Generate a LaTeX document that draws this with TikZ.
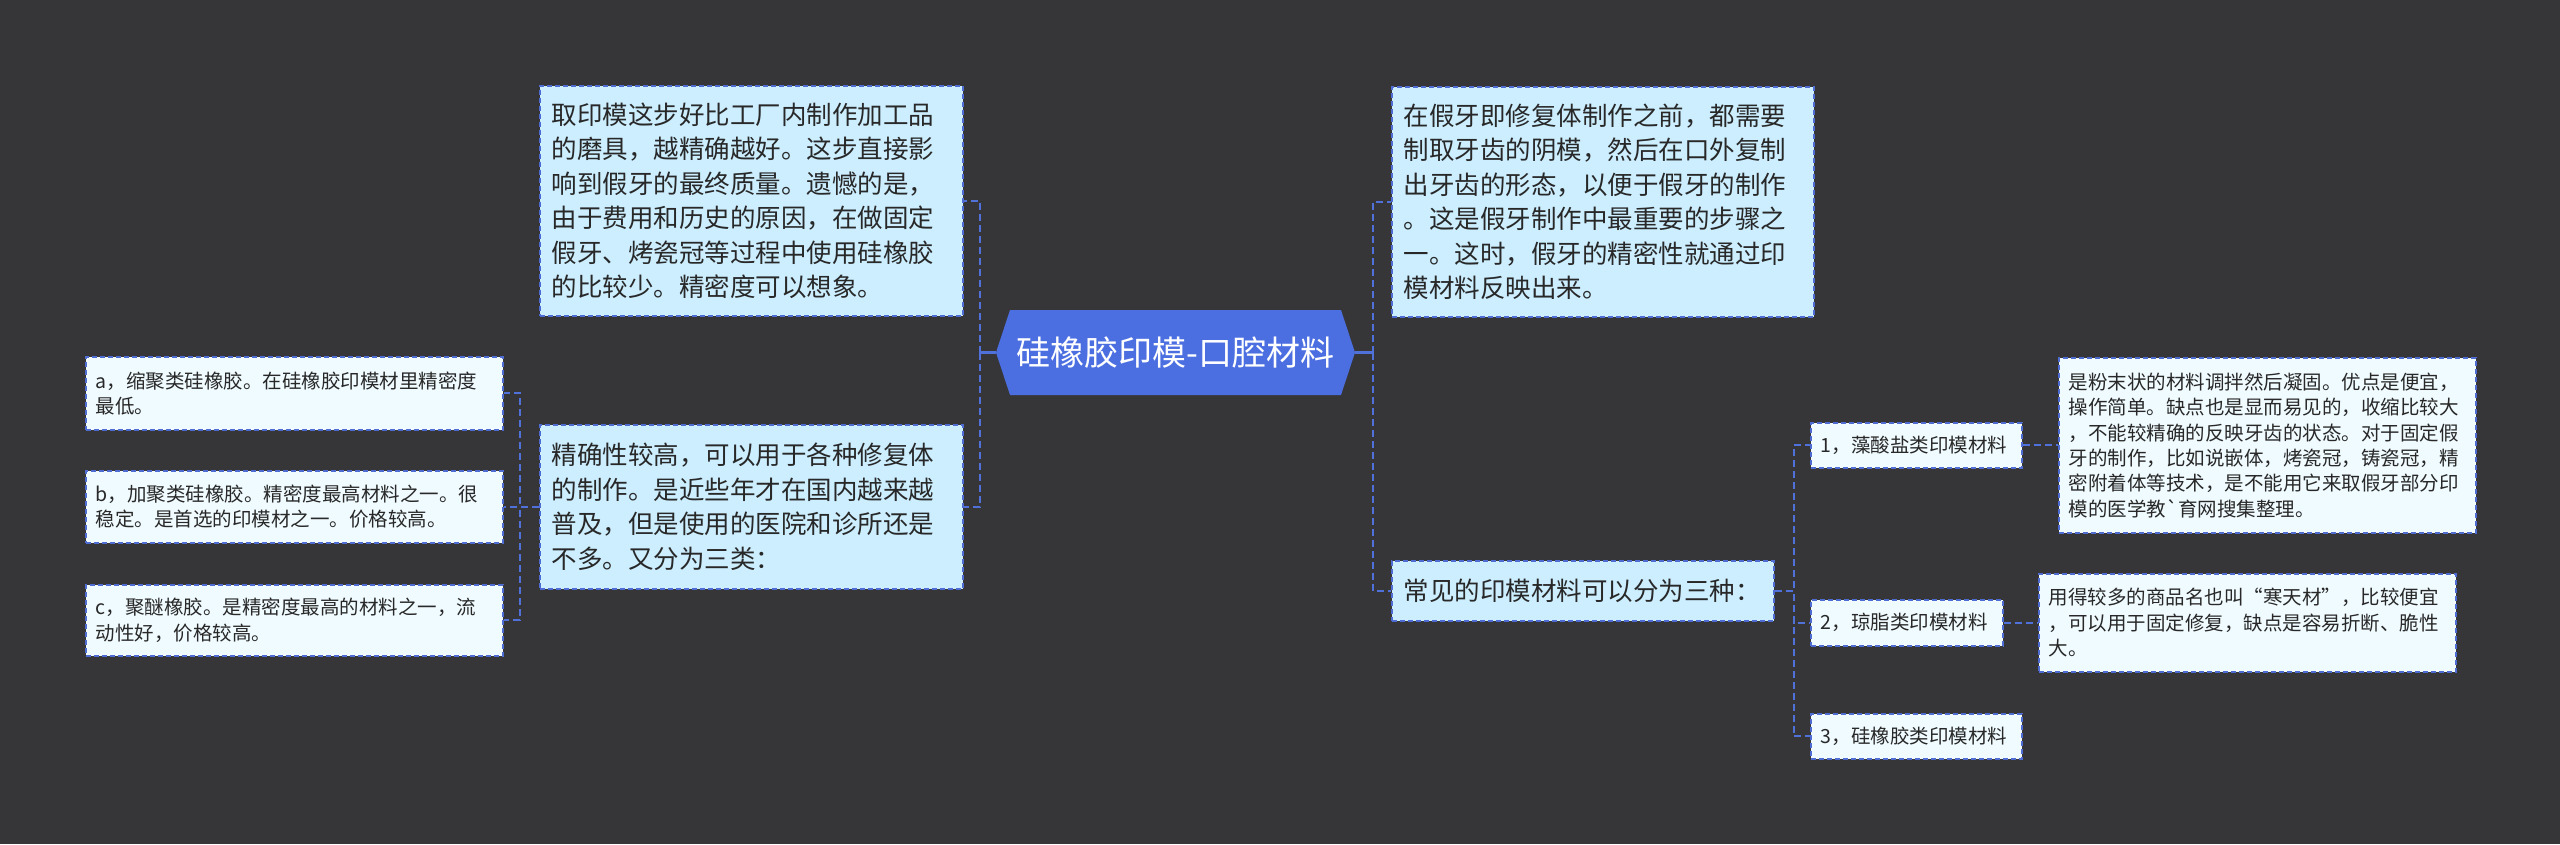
\documentclass[tikz,border=0pt]{standalone}
\usepackage{fontspec}
\setmainfont{Noto Sans CJK SC}[Ligatures=TeXOff]
\definecolor{bgc}{RGB}{54,53,56}
\definecolor{rootc}{RGB}{75,110,225}
\definecolor{lonec}{RGB}{204,238,255}
\definecolor{ltwoc}{RGB}{240,251,255}
\definecolor{bordc}{RGB}{78,108,210}
\definecolor{linec}{RGB}{80,112,218}
\definecolor{txtc}{RGB}{40,40,40}
\tikzset{
  rootbox/.style={rectangle, text=white, inner sep=0pt, minimum width=359pt, minimum height=85pt,
    font=\fontsize{34}{40}\selectfont,
    path picture={\fill[rootc] (path picture bounding box.west)
      -- ([xshift=14pt]path picture bounding box.north west)
      -- ([xshift=-14pt]path picture bounding box.north east)
      -- (path picture bounding box.east)
      -- ([xshift=-14pt]path picture bounding box.south east)
      -- ([xshift=14pt]path picture bounding box.south west) -- cycle;}},
  lonebox/.style={anchor=north west, fill=lonec, draw=bordc, line width=1.6pt, dash pattern=on 5pt off 3pt,
    text=txtc, align=left, inner xsep=12pt, inner ysep=0pt, font=\fontsize{25.5}{34.4}\selectfont},
  ltwobox/.style={anchor=north west, fill=ltwoc, draw=bordc, line width=1.5pt, dash pattern=on 5pt off 3pt,
    text=txtc, align=left, inner xsep=10pt, inner ysep=0pt, font=\fontsize{19.5}{25.4}\selectfont},
  conn/.style={draw=linec, line width=2pt, dash pattern=on 7pt off 4pt},
  stub/.style={draw=linec, line width=2.5pt},
}
\begin{document}
\begin{tikzpicture}[x=1pt,y=-1pt]
\useasboundingbox (0,0) rectangle (2560,844);
\fill[bgc] (0,0) rectangle (2560,844);

% root
\node[rootbox] (root) at (1175.5,352.5) {硅橡胶印模-口腔材料};

% left level 1
\node[lonebox, text width=399pt, minimum height=230pt] (tl) at (539,85) {取印模这步好比工厂内制作加工品\\的磨具，越精确越好。这步直接影\\响到假牙的最终质量。遗憾的是，\\由于费用和历史的原因，在做固定\\假牙、烤瓷冠等过程中使用硅橡胶\\的比较少。精密度可以想象。};
\node[lonebox, text width=399pt, minimum height=164pt] (ml) at (539,424) {精确性较高，可以用于各种修复体\\的制作。是近些年才在国内越来越\\普及，但是使用的医院和诊所还是\\不多。又分为三类：};

% left level 2
\node[ltwobox, text width=397pt, minimum height=73pt] (la) at (85,356) {a，缩聚类硅橡胶。在硅橡胶印模材里精密度\\最低。};
\node[ltwobox, text width=397pt, minimum height=72pt] (lb) at (85,470) {b，加聚类硅橡胶。精密度最高材料之一。很\\稳定。是首选的印模材之一。价格较高。};
\node[ltwobox, text width=397pt, minimum height=71pt] (lc) at (85,584) {c，聚醚橡胶。是精密度最高的材料之一，流\\动性好，价格较高。};

% right level 1
\node[lonebox, text width=398pt, minimum height=230pt] (tr) at (1391,86) {在假牙即修复体制作之前，都需要\\制取牙齿的阴模，然后在口外复制\\出牙齿的形态，以便于假牙的制作\\。这是假牙制作中最重要的步骤之\\一。这时，假牙的精密性就通过印\\模材料反映出来。};
\node[lonebox, text width=358pt, minimum height=60pt] (cr) at (1391,560) {常见的印模材料可以分为三种：};

% right level 2
\node[ltwobox, text width=191pt, minimum height=45pt] (ra) at (1810,422) {1，藻酸盐类印模材料};
\node[ltwobox, text width=172pt, minimum height=46pt] (rb) at (1810,599) {2，琼脂类印模材料};
\node[ltwobox, text width=191pt, minimum height=45pt] (rc) at (1810,713) {3，硅橡胶类印模材料};

% right level 3
\node[ltwobox, text width=397pt, minimum height=175pt] (da) at (2058,357) {是粉末状的材料调拌然后凝固。优点是便宜，\\操作简单。缺点也是显而易见的，收缩比较大\\，不能较精确的反映牙齿的状态。对于固定假\\牙的制作，比如说嵌体，烤瓷冠，铸瓷冠，精\\密附着体等技术，是不能用它来取假牙部分印\\模的医学教`育网搜集整理。};
\node[ltwobox, text width=397pt, minimum height=98pt] (db) at (2038,573) {用得较多的商品名也叫“寒天材”，比较便宜\\，可以用于固定修复，缺点是容易折断、脆性\\大。};

% connectors
\coordinate (lj) at (980,352.5);
\coordinate (rj) at (1373,352.5);
\draw[stub] (root.west) -- (lj);
\draw[stub] (root.east) -- (rj);
\draw[conn] (lj) |- (tl.east);
\draw[conn] (lj) |- (ml.east);
\draw[conn] (rj) |- (tr.west);
\draw[conn] (rj) |- (cr.west);

\draw[conn] (ml.west) -- ++(-19,0) |- (la.east);
\draw[conn] (ml.west) -- ++(-19,0) |- (lb.east);
\draw[conn] (ml.west) -- ++(-19,0) |- (lc.east);

\draw[conn] (cr.east) -- ++(19,0) |- (ra.west);
\draw[conn] (cr.east) -- ++(19,0) |- (rb.west);
\draw[conn] (cr.east) -- ++(19,0) |- (rc.west);

\draw[conn] (ra.east) -- (ra.east -| da.west);
\draw[conn] (rb.east) -- (rb.east -| db.west);
\end{tikzpicture}
\end{document}
